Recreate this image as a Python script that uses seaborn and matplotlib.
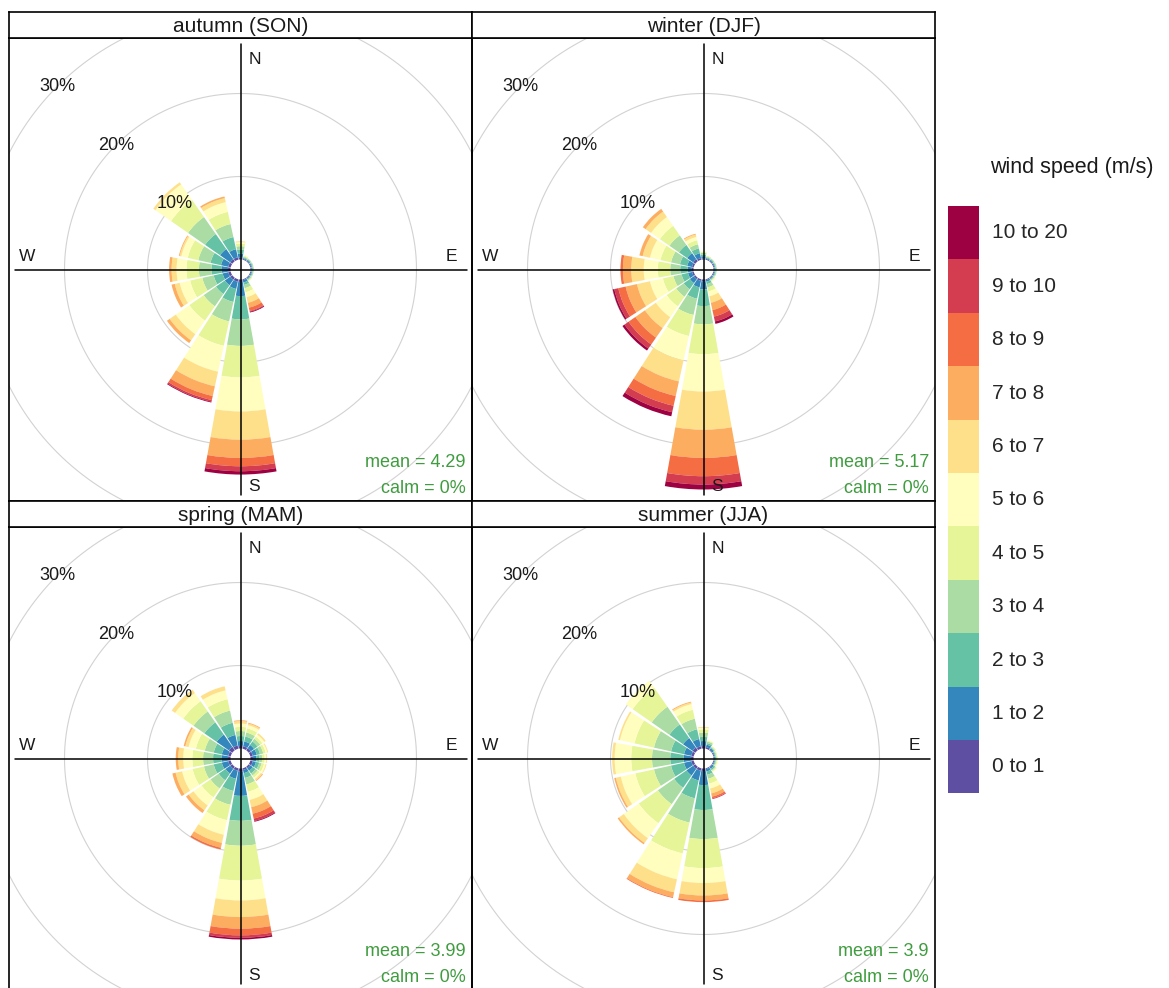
import numpy as np
import matplotlib
matplotlib.use("Agg")
import matplotlib.pyplot as plt
from matplotlib.patches import Patch
import seaborn as sns

# ---------------- data ----------------
directions = ["N", "NNE", "NE", "ENE", "E", "ESE", "SE", "SSE",
              "S", "SSW", "SW", "WSW", "W", "WNW", "NW", "NNW"]
dir_deg = [0, 22.5, 45, 67.5, 90, 112.5, 135, 157.5,
           180, 202.5, 225, 247.5, 270, 292.5, 315, 337.5]
speed_bins = ["0 to 1", "1 to 2", "2 to 3", "3 to 4", "4 to 5", "5 to 6",
              "6 to 7", "7 to 8", "8 to 9", "9 to 10", "10 to 20"]
season_titles = ["autumn (SON)", "winter (DJF)", "spring (MAM)", "summer (JJA)"]
mean_speed = ["4.29", "5.17", "3.99", "3.9"]
calm_pct = ["0", "0", "0", "0"]
ring_levels = [10, 20, 30]

# frequency (%) per direction (rows, order of `directions`) and speed bin (cols)
autumn = [
    [0.2, 0.5, 0.5, 0.4, 0.3, 0.2, 0.1, 0.0, 0.0, 0.0, 0.0],
    [0.1, 0.1, 0.1, 0.1, 0.1, 0.1, 0.0, 0.0, 0.0, 0.0, 0.0],
    [0.1, 0.1, 0.1, 0.1, 0.0, 0.0, 0.0, 0.0, 0.0, 0.0, 0.0],
    [0.1, 0.1, 0.1, 0.1, 0.0, 0.0, 0.0, 0.0, 0.0, 0.0, 0.0],
    [0.1, 0.1, 0.1, 0.1, 0.0, 0.0, 0.0, 0.0, 0.0, 0.0, 0.0],
    [0.1, 0.1, 0.1, 0.1, 0.0, 0.0, 0.0, 0.0, 0.0, 0.0, 0.0],
    [0.1, 0.1, 0.1, 0.1, 0.1, 0.0, 0.0, 0.0, 0.0, 0.0, 0.0],
    [0.1, 0.3, 0.3, 0.4, 0.5, 0.6, 0.7, 0.6, 0.4, 0.1, 0.1],
    [0.3, 1.7, 2.8, 3.2, 3.8, 4.1, 3.4, 2.2, 1.0, 0.6, 0.4],
    [0.3, 0.9, 1.6, 2.4, 3.0, 3.2, 1.8, 1.2, 0.5, 0.2, 0.1],
    [0.3, 0.8, 1.3, 1.8, 2.1, 2.0, 0.9, 0.4, 0.0, 0.0, 0.0],
    [0.3, 0.7, 1.1, 1.4, 1.5, 1.3, 0.6, 0.4, 0.0, 0.0, 0.0],
    [0.3, 0.8, 1.2, 1.5, 1.5, 1.2, 0.6, 0.3, 0.0, 0.0, 0.0],
    [0.3, 0.9, 1.3, 1.5, 1.3, 0.8, 0.2, 0.1, 0.0, 0.0, 0.0],
    [0.3, 1.5, 2.2, 2.5, 2.5, 2.3, 0.3, 0.0, 0.0, 0.0, 0.0],
    [0.3, 1.0, 1.5, 1.6, 1.5, 1.2, 0.5, 0.2, 0.0, 0.0, 0.0],
]
winter = [
    [0.1, 0.3, 0.2, 0.2, 0.1, 0.1, 0.0, 0.0, 0.0, 0.0, 0.0],
    [0.1, 0.1, 0.1, 0.1, 0.1, 0.0, 0.0, 0.0, 0.0, 0.0, 0.0],
    [0.1, 0.1, 0.1, 0.1, 0.0, 0.0, 0.0, 0.0, 0.0, 0.0, 0.0],
    [0.1, 0.1, 0.1, 0.1, 0.0, 0.0, 0.0, 0.0, 0.0, 0.0, 0.0],
    [0.1, 0.1, 0.1, 0.1, 0.0, 0.0, 0.0, 0.0, 0.0, 0.0, 0.0],
    [0.1, 0.1, 0.1, 0.1, 0.0, 0.0, 0.0, 0.0, 0.0, 0.0, 0.0],
    [0.1, 0.1, 0.1, 0.1, 0.1, 0.1, 0.0, 0.0, 0.0, 0.0, 0.0],
    [0.1, 0.2, 0.3, 0.4, 0.5, 0.6, 0.8, 0.9, 0.8, 0.6, 0.3],
    [0.2, 1.0, 2.0, 2.2, 3.6, 4.5, 4.6, 3.4, 2.2, 1.0, 0.6],
    [0.2, 0.8, 1.4, 2.0, 2.6, 3.0, 2.6, 1.8, 1.2, 0.8, 0.5],
    [0.2, 0.6, 0.9, 1.1, 1.4, 1.6, 1.6, 1.4, 1.0, 0.6, 0.3],
    [0.2, 0.5, 0.8, 1.0, 1.3, 1.6, 1.6, 1.4, 0.9, 0.5, 0.2],
    [0.2, 0.5, 0.9, 1.2, 1.5, 1.7, 1.5, 1.0, 0.3, 0.0, 0.0],
    [0.2, 0.6, 0.9, 1.1, 1.3, 1.3, 0.9, 0.4, 0.0, 0.0, 0.0],
    [0.3, 0.9, 1.2, 1.4, 1.4, 1.3, 0.8, 0.4, 0.0, 0.0, 0.0],
    [0.2, 0.6, 0.6, 0.5, 0.5, 0.4, 0.3, 0.1, 0.0, 0.0, 0.0],
]
spring = [
    [0.3, 0.6, 0.6, 0.6, 0.5, 0.4, 0.3, 0.1, 0.0, 0.0, 0.0],
    [0.3, 0.6, 0.6, 0.5, 0.5, 0.4, 0.2, 0.1, 0.0, 0.0, 0.0],
    [0.3, 0.5, 0.5, 0.4, 0.3, 0.3, 0.2, 0.0, 0.0, 0.0, 0.0],
    [0.3, 0.5, 0.4, 0.4, 0.3, 0.2, 0.1, 0.0, 0.0, 0.0, 0.0],
    [0.3, 0.4, 0.4, 0.3, 0.3, 0.2, 0.1, 0.0, 0.0, 0.0, 0.0],
    [0.3, 0.4, 0.4, 0.3, 0.3, 0.2, 0.1, 0.0, 0.0, 0.0, 0.0],
    [0.2, 0.4, 0.4, 0.3, 0.3, 0.2, 0.2, 0.1, 0.0, 0.0, 0.0],
    [0.2, 0.4, 0.6, 0.8, 0.9, 1.0, 0.9, 0.8, 0.6, 0.3, 0.1],
    [0.4, 2.9, 3.0, 3.0, 4.2, 2.4, 2.0, 1.4, 0.8, 0.3, 0.2],
    [0.3, 1.0, 1.5, 1.7, 1.9, 1.8, 1.0, 0.6, 0.2, 0.0, 0.0],
    [0.3, 0.7, 1.0, 1.2, 1.3, 1.2, 0.7, 0.4, 0.0, 0.0, 0.0],
    [0.3, 0.8, 1.0, 1.2, 1.4, 1.3, 0.8, 0.4, 0.0, 0.0, 0.0],
    [0.3, 0.8, 1.0, 1.2, 1.3, 1.1, 0.6, 0.3, 0.0, 0.0, 0.0],
    [0.3, 0.8, 1.0, 1.1, 1.1, 0.9, 0.4, 0.2, 0.0, 0.0, 0.0],
    [0.5, 1.8, 1.8, 1.6, 1.5, 1.2, 0.5, 0.0, 0.0, 0.0, 0.0],
    [0.4, 1.3, 1.5, 1.5, 1.4, 1.1, 0.5, 0.0, 0.0, 0.0, 0.0],
]
summer = [
    [0.3, 0.6, 0.5, 0.5, 0.4, 0.2, 0.1, 0.0, 0.0, 0.0, 0.0],
    [0.2, 0.3, 0.2, 0.2, 0.1, 0.1, 0.0, 0.0, 0.0, 0.0, 0.0],
    [0.1, 0.2, 0.1, 0.1, 0.1, 0.0, 0.0, 0.0, 0.0, 0.0, 0.0],
    [0.1, 0.1, 0.1, 0.1, 0.1, 0.0, 0.0, 0.0, 0.0, 0.0, 0.0],
    [0.1, 0.1, 0.1, 0.1, 0.1, 0.0, 0.0, 0.0, 0.0, 0.0, 0.0],
    [0.1, 0.1, 0.1, 0.1, 0.1, 0.1, 0.0, 0.0, 0.0, 0.0, 0.0],
    [0.1, 0.2, 0.2, 0.1, 0.1, 0.1, 0.0, 0.0, 0.0, 0.0, 0.0],
    [0.1, 0.3, 0.4, 0.5, 0.6, 0.6, 0.6, 0.4, 0.2, 0.1, 0.0],
    [0.3, 1.7, 3.0, 3.5, 3.5, 1.8, 1.5, 0.6, 0.2, 0.0, 0.0],
    [0.3, 1.2, 2.2, 3.0, 3.8, 3.2, 1.6, 0.6, 0.1, 0.0, 0.0],
    [0.3, 1.0, 1.8, 2.4, 2.8, 2.2, 0.7, 0.2, 0.0, 0.0, 0.0],
    [0.3, 0.9, 1.6, 2.1, 2.3, 1.8, 0.6, 0.2, 0.0, 0.0, 0.0],
    [0.3, 0.9, 1.6, 2.2, 2.5, 2.0, 0.3, 0.0, 0.0, 0.0, 0.0],
    [0.3, 0.9, 1.6, 2.1, 2.4, 1.8, 0.2, 0.0, 0.0, 0.0, 0.0],
    [0.4, 1.4, 2.0, 2.6, 2.8, 1.0, 0.0, 0.0, 0.0, 0.0, 0.0],
    [0.3, 0.9, 1.2, 1.3, 1.1, 0.7, 0.2, 0.1, 0.0, 0.0, 0.0],
]
season_data = [autumn, winter, spring, summer]

# ---------------- style ----------------
sns.set_theme(style="white")
plt.rcParams["font.family"] = ["Liberation Sans", "DejaVu Sans"]
spectral = sns.color_palette("Spectral_r", as_cmap=True)
palette = [spectral(v) for v in np.linspace(0, 1, len(speed_bins))]
GREEN = "#3f9c3f"

W, H = 1169, 988
fig = plt.figure(figsize=(W / 100, H / 100), dpi=100)
fig.patch.set_facecolor("white")

PX = 8.3              # pixels per 1 % frequency
OFFSET = 10 / PX      # white hole in the middle
PANEL = 463
STRIP = 26
panel_origin = [(9, 38), (472, 38), (9, 527), (472, 527)]   # left, top (pixels)
WEDGE = 20.25         # wedge angular width (deg)


def frect(x, y, w, h):
    return [x / W, 1 - (y + h) / H, w / W, h / H]


for k in range(4):
    x0, y0 = panel_origin[k]
    data = np.array(season_data[k])

    # panel frame (on top, transparent)
    frame = fig.add_axes(frect(x0, y0, PANEL, PANEL), zorder=3)
    frame.set_xlim(0, 1)
    frame.set_ylim(0, 1)
    frame.set_facecolor("none")
    frame.set_xticks([])
    frame.set_yticks([])
    for s in frame.spines.values():
        s.set_linewidth(1.2)
        s.set_color("black")

    # strip title
    strip = fig.add_axes(frect(x0, y0 - STRIP, PANEL, STRIP), zorder=3)
    strip.set_facecolor("white")
    strip.set_xticks([])
    strip.set_yticks([])
    for s in strip.spines.values():
        s.set_linewidth(1.2)
        s.set_color("black")
    strip.text(0.5, 0.45, season_titles[k], ha="center", va="center",
               fontsize=15, color="#1a1a1a", transform=strip.transAxes)

    # polar axes, larger than panel, clipped to the panel
    cx, cy = x0 + PANEL / 2, y0 + PANEL / 2
    R = 335
    pax = fig.add_axes(frect(cx - R, cy - R, 2 * R, 2 * R),
                       projection="polar", zorder=1)
    pax.set_theta_zero_location("N")
    pax.set_theta_direction(-1)
    pax.set_ylim(0, R / PX)
    pax.grid(False)
    pax.set_xticks([])
    pax.set_yticks([])
    pax.spines["polar"].set_visible(False)
    pax.patch.set_visible(False)
    clip = frame.patch

    tt = np.linspace(0, 2 * np.pi, 721)
    for lev in ring_levels:
        ln, = pax.plot(tt, np.full_like(tt, OFFSET + lev), color="#d2d2d2",
                       lw=0.8, zorder=1)
        ln.set_clip_path(clip)
        pax.text(np.deg2rad(315), OFFSET + lev, f"{lev}%", ha="center",
                 va="center", fontsize=13, color="#1a1a1a", zorder=6)

    theta = np.deg2rad(dir_deg)
    bottoms = OFFSET + np.cumsum(data, axis=1) - data
    for j in range(len(speed_bins)):
        bars = pax.bar(theta, data[:, j], width=np.deg2rad(WEDGE),
                       bottom=bottoms[:, j], color=palette[j],
                       linewidth=0, zorder=2)
        for b in bars:
            b.set_clip_path(clip)

    # cross and compass labels
    frame.plot([0.5, 0.5], [0.012, 0.988], color="black", lw=1.1)
    frame.plot([0.014, 0.99], [0.5, 0.5], color="black", lw=1.1)
    frame.text(0.532, 0.954, "N", ha="center", va="center", fontsize=12.5,
               color="#1a1a1a")
    frame.text(0.530, 0.031, "S", ha="center", va="center", fontsize=12.5,
               color="#1a1a1a")
    frame.text(0.040, 0.528, "W", ha="center", va="center", fontsize=12.5,
               color="#1a1a1a")
    frame.text(0.956, 0.528, "E", ha="center", va="center", fontsize=12.5,
               color="#1a1a1a")

    frame.text(0.987, 0.084, f"mean = {mean_speed[k]}", ha="right",
               va="center", fontsize=13, color=GREEN)
    frame.text(0.987, 0.026, f"calm = {calm_pct[k]}%", ha="right",
               va="center", fontsize=13, color=GREEN)

# ---------------- legend ----------------
handles = [Patch(facecolor=palette[j], edgecolor="none", label=speed_bins[j])
           for j in range(len(speed_bins) - 1, -1, -1)]
fs = 15
fs_px = fs * 100 / 72
box_h_pt = 53.4 * 72 / 100
# legend handle height = fs*hh - 0.35*fs*(hh-0.7)
hh = (box_h_pt / fs - 0.245) / 0.65
fig.legend(handles=handles, loc="upper left",
           bbox_to_anchor=(948 / W, 1 - 206 / H), bbox_transform=fig.transFigure,
           frameon=False, fontsize=fs, handlelength=31 / fs_px,
           handleheight=hh, labelspacing=0,
           handletextpad=13 / fs_px, borderpad=0, borderaxespad=0)
fig.text(990 / W, 1 - 167 / H, "wind speed (m/s)", ha="left", va="center",
         fontsize=15.5, color="#1a1a1a")

fig.savefig("out.png", dpi=100, facecolor="white")
